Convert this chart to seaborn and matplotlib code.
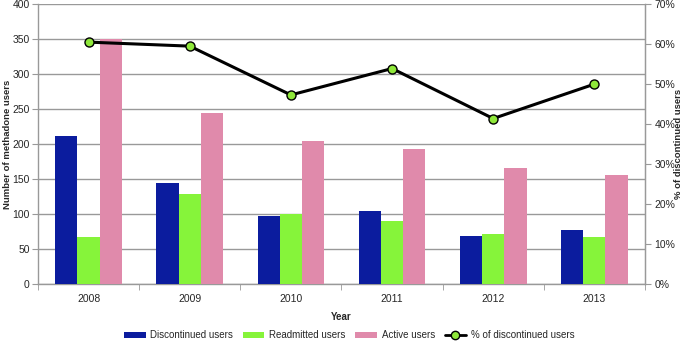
import matplotlib
matplotlib.use("Agg")
import matplotlib.pyplot as plt
import seaborn as sns
import pandas as pd
from matplotlib.ticker import FuncFormatter, FixedLocator
from matplotlib.lines import Line2D
from matplotlib.patches import Patch

years = ["2008", "2009", "2010", "2011", "2012", "2013"]
discontinued = [212, 145, 97, 104, 69, 78]
readmitted = [67, 129, 100, 90, 72, 67]
active = [350, 244, 205, 193, 166, 156]
pct_discontinued = [60.5, 59.5, 47.3, 53.9, 41.4, 50.0]

series_names = ["Discontinued users", "Readmitted users", "Active users"]
colors = ["#0b1c9e", "#86f43a", "#e08aab"]
line_label = "% of discontinued users"

df = pd.DataFrame({
    "Year": years * 3,
    "Series": [series_names[0]] * 6 + [series_names[1]] * 6 + [series_names[2]] * 6,
    "Value": discontinued + readmitted + active,
})
dfl = pd.DataFrame({"Year": years, "Pct": pct_discontinued})

sns.set_style("white")
plt.rcParams["font.family"] = ["Liberation Sans", "DejaVu Sans"]

fig = plt.figure(figsize=(6.85, 3.44), dpi=100)
ax = fig.add_axes([0.0555, 0.174, 0.886, 0.814])

sns.barplot(data=df, x="Year", y="Value", hue="Series", palette=colors,
            width=0.66, gap=0, saturation=1, ax=ax, legend=False, zorder=3,
            linewidth=0, edgecolor="none")
ax.set_xlim(-0.5, 5.5)
ax.set_ylim(0, 400)
ax.set_yticks(range(0, 401, 50))
ax.yaxis.grid(True, color="#999999", linewidth=1.0, zorder=0)
ax.set_axisbelow(True)
ax.xaxis.grid(False)
ax.spines["top"].set_visible(False)
for s in ["left", "right", "bottom"]:
    ax.spines[s].set_color("#999999")
    ax.spines[s].set_linewidth(1.0)
ax.tick_params(axis="y", length=4, color="#999999", labelsize=7.5, pad=2, left=True)
ax.tick_params(axis="x", which="major", length=0, labelsize=7.5, pad=7)
ax.xaxis.set_minor_locator(FixedLocator([i - 0.5 for i in range(7)]))
ax.tick_params(axis="x", which="minor", length=4, color="#999999", bottom=True)
ax.set_xlabel("Year", fontsize=7, fontweight="bold", labelpad=6)
ax.set_ylabel("Number of methadone users", fontsize=6.8, fontweight="bold",
              va="center", rotation=90)
ax.yaxis.set_label_coords((7.5 - 38) / 607, 0.5)

ax2 = ax.twinx()
sns.lineplot(data=dfl, x="Year", y="Pct", ax=ax2, color="black", linewidth=2.2,
             marker="o", markersize=6.5, markerfacecolor="#8fe83a",
             markeredgecolor="black", markeredgewidth=1.0, zorder=5)
ax2.set_xlim(-0.5, 5.5)
ax2.set_ylim(0, 70)
ax2.set_yticks(range(0, 71, 10))
ax2.yaxis.set_major_formatter(FuncFormatter(lambda v, p: f"{int(v)}%"))
ax2.tick_params(axis="y", length=4, color="#999999", labelsize=7.5, pad=3, right=True)
ax2.set_ylabel("% of discontinued users", fontsize=6.8, fontweight="bold",
               rotation=90, va="center")
ax2.yaxis.set_label_coords((678.5 - 38) / 607, 0.5)
ax2.set_xlabel("")
for s in ["top", "left", "bottom"]:
    ax2.spines[s].set_visible(False)
ax2.spines["right"].set_color("#999999")
ax2.grid(False)

handles = [Patch(facecolor=c, edgecolor="none", label=n) for c, n in zip(colors, series_names)]
handles.append(Line2D([0], [0], color="black", linewidth=2, marker="o", markersize=6,
                      markerfacecolor="#8fe83a", markeredgecolor="black", label=line_label))
fig.legend(handles=handles, loc="lower center", bbox_to_anchor=(0.51, -0.015), ncol=4,
           frameon=False, fontsize=7, handlelength=2.2, handleheight=0.45,
           columnspacing=1.0, handletextpad=0.5)

fig.savefig("out.png", dpi=100)
